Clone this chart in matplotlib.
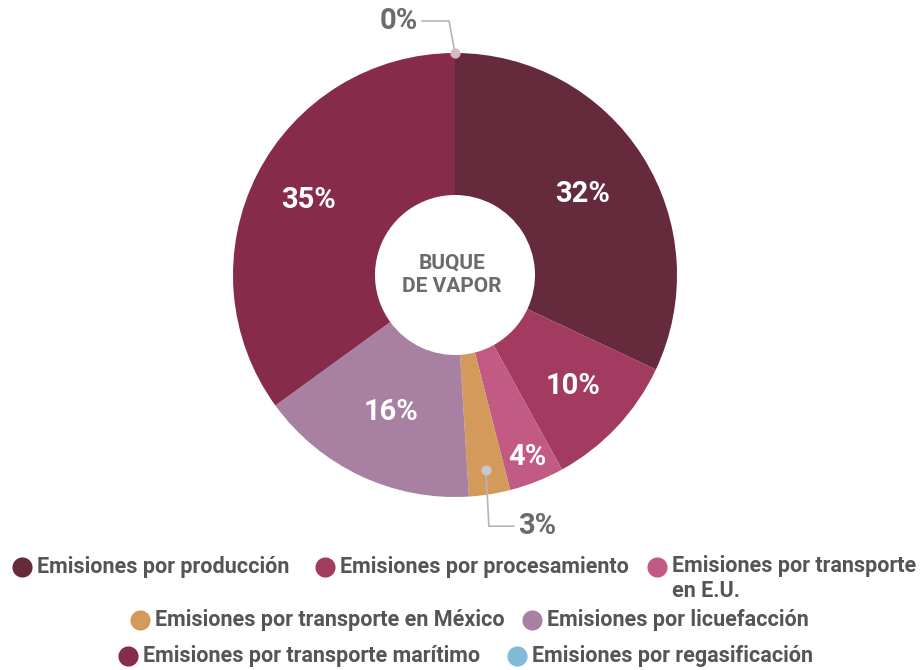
import numpy as np
import matplotlib
matplotlib.use('Agg')
import matplotlib.pyplot as plt

# datos
categorias = ['Emisiones por producción', 'Emisiones por procesamiento',
              'Emisiones por transporte\nen E.U.', 'Emisiones por transporte en México',
              'Emisiones por licuefacción', 'Emisiones por transporte marítimo',
              'Emisiones por regasificación']
valores = [32, 10, 4, 3, 16, 35, 0]
etiquetas = ['32%', '10%', '4%', '3%', '16%', '35%', '0%']
colores = ['#652a3b', '#a33b61', '#c15b83', '#d49a5b', '#a780a2', '#872b4b', '#7fbbd9']

plt.rcParams['font.family'] = ['Roboto', 'DejaVu Sans']

W, H = 924, 670
fig = plt.figure(figsize=(W / 100, H / 100), dpi=100)
ax = fig.add_axes([0, 0, 1, 1])

cx, cy, R = 455, H - 275, 222
wedges, _ = ax.pie(valores, colors=colores, startangle=90, counterclock=False,
                   center=(cx, cy), radius=R, frame=True,
                   wedgeprops=dict(width=R - 80, linewidth=0))
ax.set_xlim(0, W)
ax.set_ylim(0, H)
ax.set_aspect('equal')
ax.axis('off')

gris = '#6b6b6b'
# etiquetas dentro de las cuñas
dist = [0.68, 0.73, 0.88, None, 0.68, 0.74, None]
for w, lab, d in zip(wedges, etiquetas, dist):
    ang = np.deg2rad((w.theta1 + w.theta2) / 2)
    if d is not None:
        ax.text(cx + d * R * np.cos(ang), cy + d * R * np.sin(ang), lab,
                color='white', fontsize=21, fontweight='bold', ha='center', va='center')

# 3% con línea guía
w3 = wedges[3]
ang = np.deg2rad((w3.theta1 + w3.theta2) / 2)
px, py = cx + 0.89 * R * np.cos(ang), cy + 0.89 * R * np.sin(ang)
ax.plot([px, px + 3, px + 28], [py, py - 56, py - 56], color='#b5b5b5', lw=1.2, zorder=5)
ax.scatter([px], [py], s=40, color='#c8c8c8', zorder=6)
ax.text(px + 32, py - 56, etiquetas[3], color=gris, fontsize=21, fontweight='bold',
        ha='left', va='center')

# 0% con línea guía
w0 = wedges[6]
ang = np.deg2rad(w0.theta1)
px, py = cx + R * np.cos(ang), cy + R * np.sin(ang)
ax.plot([px, px - 6, px - 33], [py, py + 32, py + 32], color='#b5b5b5', lw=1.2, zorder=5)
ax.scatter([px], [py], s=40, color='#d8b8c4', zorder=6)
ax.text(px - 37, py + 32, etiquetas[6], color=gris, fontsize=21, fontweight='bold',
        ha='right', va='center')

ax.text(cx - 3, cy, 'BUQUE\nDE VAPOR', color=gris, fontsize=15, fontweight='bold',
        ha='center', va='center', linespacing=1.3)

# leyenda manual
pos_leyenda = [(22, 567), (325, 567), (657, 567), (140, 620), (532, 620), (128, 656), (517, 656)]
for (lx, ly), cat, col in zip(pos_leyenda, categorias, colores):
    ax.scatter([lx], [H - ly], s=210, color=col, zorder=5, linewidths=0)
    if '\n' in cat:
        ax.text(lx + 15, H - ly + 12, cat, color='#555555', fontsize=15.5, fontweight='bold',
                ha='left', va='top', linespacing=1.2)
    else:
        ax.text(lx + 15, H - ly, cat, color='#555555', fontsize=15.5, fontweight='bold',
                ha='left', va='center')

fig.savefig('out.png', dpi=100)
